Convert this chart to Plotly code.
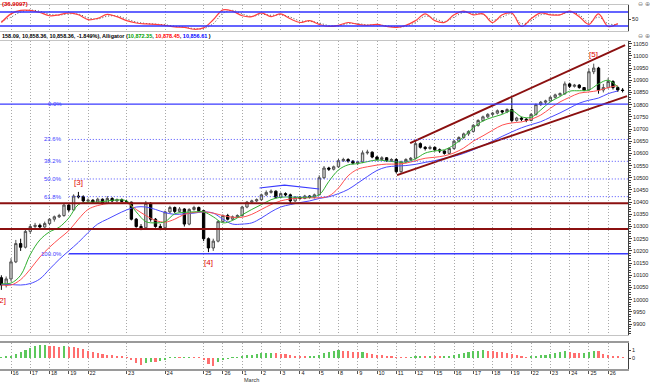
import plotly.graph_objects as go

# ---------------- data ----------------
day_labels = ["16","17","18","19","22","23","24","25","26","1","2","3","4","5",
              "8","9","10","11","12","15","16","17","18","19","22","23","24","25","26"]
day_slots = [0,1,2,3,4,6,8,10,11,12,13,14,15,16,17,18,19,20,21,22,23,24,25,26,27,28,29,30,31]

open_ = [
10090,10060,10085,10155,10230,10215,10280,10300,10305,10298,
10312,10330,10340,10345,10388,10368,10425,10422,10405,10408,
10400,10412,10395,10415,10405,10410,10403,10400,10330,10300,
10295,10395,10330,10300,10295,10360,10378,10362,10372,10310,
10370,10378,10365,10250,10212,10240,10320,10345,10330,10340,
10345,10380,10400,10405,10410,10430,10440,10445,10420,10435,
10430,10405,10420,10415,10425,10420,10430,10500,10540,10535,
10545,10570,10575,10568,10560,10565,10602,10605,10585,10575,
10582,10570,10575,10525,10565,10575,10580,10640,10625,10620,
10625,10615,10610,10600,10620,10650,10665,10680,10690,10715,
10735,10750,10760,10765,10775,10770,10780,10735,10745,10740,
10735,10760,10800,10810,10815,10830,10840,10845,10885,10875,
10880,10870,10860,10935,10950,10860,10870,10895,10870,10860]
high = [
10100,10095,10170,10245,10250,10290,10310,10315,10312,10320,
10335,10345,10352,10395,10392,10432,10442,10428,10415,10412,
10418,10415,10425,10420,10415,10415,10410,10402,10335,10310,
10405,10400,10335,10310,10365,10385,10382,10380,10375,10375,
10385,10382,10368,10255,10250,10325,10350,10352,10345,10350,
10385,10405,10410,10415,10435,10448,10452,10448,10440,10440,
10435,10425,10425,10430,10428,10435,10510,10548,10545,10550,
10578,10582,10580,10572,10570,10612,10615,10608,10590,10588,
10585,10580,10580,10570,10580,10585,10650,10645,10630,10632,
10628,10620,10612,10625,10655,10670,10685,10695,10720,10740,
10755,10765,10770,10780,10778,10785,10828,10750,10750,10745,
10765,10805,10815,10820,10835,10845,10850,10895,10890,10885,
10884,10872,10948,10968,10955,10885,10910,10900,10875,10868]
low = [
10040,10050,10075,10150,10200,10210,10270,10290,10290,10295,
10305,10320,10335,10340,10360,10365,10415,10400,10398,10395,
10398,10390,10392,10400,10400,10398,10395,10325,10295,10285,
10290,10320,10295,10285,10292,10355,10355,10358,10300,10305,
10365,10360,10240,10195,10200,10235,10315,10325,10325,10335,
10340,10375,10395,10400,10405,10425,10435,10415,10415,10425,
10395,10400,10410,10412,10415,10415,10428,10495,10528,10530,
10540,10565,10562,10555,10552,10560,10595,10580,10570,10570,
10565,10565,10518,10520,10560,10570,10575,10620,10612,10615,
10608,10602,10595,10598,10615,10645,10660,10672,10685,10710,
10730,10745,10752,10760,10762,10765,10728,10730,10732,10728,
10732,10755,10795,10802,10810,10825,10835,10840,10868,10870,
10865,10855,10858,10925,10845,10850,10865,10862,10852,10850]
close = [
10060,10085,10155,10230,10215,10280,10300,10305,10298,10312,
10330,10340,10345,10388,10368,10425,10422,10405,10408,10400,
10412,10395,10415,10405,10410,10403,10400,10330,10300,10295,
10395,10330,10300,10295,10360,10378,10362,10372,10310,10370,
10378,10365,10250,10212,10240,10320,10345,10330,10340,10345,
10380,10400,10405,10410,10430,10440,10445,10420,10435,10430,
10405,10420,10415,10425,10420,10430,10500,10540,10535,10545,
10570,10575,10568,10560,10565,10602,10605,10585,10575,10582,
10570,10575,10525,10565,10575,10580,10640,10625,10620,10625,
10615,10610,10600,10620,10650,10665,10680,10690,10715,10735,
10750,10760,10765,10775,10770,10780,10735,10745,10740,10735,
10760,10800,10810,10815,10830,10840,10845,10885,10875,10880,
10870,10860,10935,10950,10860,10870,10895,10870,10860,10858]

# Alligator (every second bar)
jaw = [
10062,10062,10060,10066,10085,10125,10165,10200,10235,10275,
10310,10330,10350,10368,10380,10380,10370,10357,10350,10352,
10355,10360,10355,10330,10310,10310,10315,10335,10360,10380,
10390,10398,10405,10415,10422,10435,10452,10478,10505,10530,
10544,10548,10550,10555,10563,10570,10580,10588,10600,10615,
10632,10650,10670,10688,10705,10718,10730,10748,10766,10786,
10806,10818,10827,10845,10856]
teeth = [
10060,10060,10082,10125,10175,10215,10250,10283,10330,10370,
10386,10394,10396,10397,10370,10345,10325,10318,10330,10350,
10358,10360,10355,10345,10338,10338,10350,10370,10390,10405,
10413,10417,10418,10418,10425,10458,10508,10535,10545,10552,
10556,10556,10560,10570,10580,10584,10590,10602,10622,10650,
10672,10695,10716,10725,10729,10740,10757,10785,10811,10830,
10847,10852,10858,10870,10878]
lips = [
10065,10068,10100,10185,10245,10278,10297,10335,10390,10400,
10400,10405,10409,10405,10360,10320,10315,10320,10352,10358,
10360,10360,10340,10315,10325,10348,10370,10390,10410,10420,
10421,10420,10421,10430,10485,10532,10553,10558,10566,10573,
10569,10565,10565,10578,10601,10610,10615,10635,10668,10705,
10733,10748,10760,10775,10750,10748,10778,10812,10833,10855,
10857,10860,10885,10900,10872]

# oscillator (top panel, every second bar)
osc = [
35,72,87,87,78,64,68,76,68,47,
53,70,60,43,33,29,27,23,16,14,
6,12,47,89,84,64,60,76,60,72,
51,35,43,27,18,23,35,27,23,27,
18,14,23,43,72,43,35,68,84,68,
72,35,68,76,18,51,76,68,68,84,
60,27,72,18,31]
osc_signal = [
40,58,80,88,83,70,67,72,71,55,
50,62,63,50,37,31,28,25,19,15,
9,9,30,75,87,72,61,70,66,68,
58,42,40,33,22,21,30,30,25,25,
21,16,19,35,62,52,39,58,78,74,
70,45,58,73,30,42,68,71,68,80,
68,36,58,30,26]
osc_levels = [80, 20]

# histogram (bottom panel)
hist = [
1,1.5,2.5,4,6,8,10,12,13,13,
12.5,12,11.5,12,11.5,11,10,9,7.5,6.5,
5,4,3.5,3,2.5,2,1,-2,-5,-6.5,
-5,-3.5,-4,-3,-1.5,0.5,0.7,0.5,0.5,0.7,
0.6,0.5,-2,-6,-7.5,-4,-1.5,-0.5,0.3,1,
2,3,3.5,4.5,5,5.5,5.5,5,4.5,4,
3,2,1.5,1.2,1.5,2,3.5,5,6,7,
8,7.5,7,6.5,6,6.3,5.5,4.5,3.5,3,
2,1.5,1,0.7,0.5,0.5,2,2.5,2.3,2.5,
2,1.5,1.5,2.5,3.5,4,5,6,7,7.5,
8,7.5,7,6.5,6,5.5,4,3,1.5,0.7,
1.5,2.5,3,3.5,4.5,5.5,6.5,7,6,5.5,
5,5.5,6.5,7.5,7,4.5,3,2,1.2,0.8]

# Fibonacci retracement
fib_top = 10802
fib_bottom = 10188
fib_levels = [0.0, 23.6, 38.2, 50.0, 61.8, 100.0]
fib_start_slot = 3
support_lines = [10395, 10290]

# drawn trend lines (slot, price)
channel_upper_x, channel_upper_y = [20.72, 31.88], [10642, 11044]
channel_lower_x, channel_lower_y = [20.04, 31.98], [10511, 10835]
wedge_x, wedge_y = [12.9, 14.2, 16.0], [10458, 10470, 10454]

wave_labels = [("[2]", 0, "low"), ("[3]", 16, "high"), ("[4]", 43, "low"), ("[5]", 123, "high")]

# ---------------- figure ----------------
n = len(close)
bar_x = [-0.5 + 0.25 * i for i in range(n)]
half_x = bar_x[::2]
XR = [-0.571, 32.03]
FONT = "Liberation Sans"
H = 369.0  # plot-area height in px

def py(px):
    return (H - px) / H

fig = go.Figure()

# top oscillator
fig.add_trace(go.Scatter(x=half_x, y=osc_signal, mode="lines", xaxis="x", yaxis="y",
                         line=dict(color="#505050", width=1, dash="1px,2px", shape="spline"), hoverinfo="skip"))
fig.add_trace(go.Scatter(x=half_x, y=osc, mode="lines", xaxis="x", yaxis="y",
                         line=dict(color="#ff4040", width=1.2, shape="spline"), hoverinfo="skip"))

# main panel
fig.add_trace(go.Candlestick(x=bar_x, open=open_, high=high, low=low, close=close,
                             xaxis="x2", yaxis="y2", whiskerwidth=0,
                             increasing=dict(line=dict(color="#505050", width=1), fillcolor="#d4d4d4"),
                             decreasing=dict(line=dict(color="#000000", width=1), fillcolor="#000000")))
for vals, col in [(jaw, "#4a4aff"), (teeth, "#ff5050"), (lips, "#30b030")]:
    fig.add_trace(go.Scatter(x=half_x, y=vals, mode="lines", xaxis="x2", yaxis="y2",
                             line=dict(color=col, width=1, shape="spline"), hoverinfo="skip"))
for xs, ys in [(channel_upper_x, channel_upper_y), (channel_lower_x, channel_lower_y)]:
    fig.add_trace(go.Scatter(x=xs, y=ys, mode="lines", xaxis="x2", yaxis="y2",
                             line=dict(color="#8b1010", width=2), hoverinfo="skip"))
fig.add_trace(go.Scatter(x=wedge_x, y=wedge_y, mode="lines", xaxis="x2", yaxis="y2",
                         line=dict(color="#3a3aff", width=1.2), hoverinfo="skip"))

# bottom histogram
hist_colors = []
for i, v in enumerate(hist):
    prev = hist[i - 1] if i > 0 else v
    hist_colors.append("#5cc85c" if v >= prev else "#ff6f6f")
fig.add_trace(go.Bar(x=bar_x, y=hist, xaxis="x3", yaxis="y3", marker_color=hist_colors,
                     marker_line_width=0, width=0.11, hoverinfo="skip"))

shapes = []
for lv in osc_levels:
    shapes.append(dict(type="line", xref="x domain", x0=0, x1=1, yref="y", y0=lv, y1=lv,
                       line=dict(color="#3030ff", width=1.5)))
for s in support_lines:
    shapes.append(dict(type="line", xref="x2 domain", x0=0, x1=1, yref="y2", y0=s, y1=s,
                       line=dict(color="#8b1010", width=2)))
annotations = []
for lv in fib_levels:
    p = fib_top - (fib_top - fib_bottom) * lv / 100.0
    solid = lv in (0.0, 100.0)
    x0 = XR[0] if lv == 0.0 else fib_start_slot
    shapes.append(dict(type="line", xref="x2", x0=x0, x1=XR[1], yref="y2", y0=p, y1=p,
                       line=dict(color="#3a3aff" if solid else "#5050ff", width=1.4 if solid else 1,
                                 dash="solid" if solid else "1px,2px")))
    annotations.append(dict(x=fib_start_slot, y=p, xref="x2", yref="y2", text=f"{lv:.1f}%",
                            xanchor="right", yanchor="middle", xshift=-5, showarrow=False,
                            font=dict(family=FONT, size=6, color="#4040ff")))

for txt, k, side in wave_labels:
    if side == "high":
        annotations.append(dict(x=bar_x[k], y=high[k], xref="x2", yref="y2", text=txt, showarrow=False,
                                yanchor="bottom", yshift=3, font=dict(family=FONT, size=8, color="#e00000")))
    else:
        annotations.append(dict(x=bar_x[k], y=low[k], xref="x2", yref="y2", text=txt, showarrow=False,
                                yanchor="top", yshift=-4, font=dict(family=FONT, size=8, color="#e00000")))

header = ("<b>158.09, 10,858.36, 10,858.36, -1.849%), Alligator (</b>"
          "<b><span style='color:#00a000'>10,872.35</span>, </b>"
          "<b><span style='color:#ff0000'>10,878.45</span>, </b>"
          "<b><span style='color:#0000ff'>10,856.61</span> )</b>")
annotations.append(dict(x=0, y=py(36), xref="paper", yref="paper", text=header,
                        xanchor="left", yanchor="middle", showarrow=False,
                        font=dict(family=FONT, size=5.5, color="#000000")))
annotations.append(dict(x=0, y=py(4), xref="paper", yref="paper", text="<b>(36.9097)</b>",
                        xanchor="left", yanchor="middle", showarrow=False,
                        font=dict(family=FONT, size=6, color="#e00000")))
annotations.append(dict(x=day_slots[9], y=py(380), xref="x3", yref="paper", text="March",
                        xanchor="left", yanchor="middle", showarrow=False,
                        font=dict(family=FONT, size=5.5, color="#333333")))
for ypx in (4, 36):
    annotations.append(dict(x=644 / 628, y=py(ypx), xref="paper", yref="paper", text="⊖ ⊕",
                            xanchor="center", yanchor="middle", showarrow=False,
                            font=dict(family=FONT, size=5.5, color="#808080")))

common_x = dict(range=XR, tickvals=day_slots, showgrid=True, gridcolor="#a8a8a8", griddash="1px,2px",
                gridwidth=1, zeroline=False, showline=True, linecolor="#c4c4c4", mirror=True,
                automargin=False)
tick_font = dict(family=FONT, size=5.5, color="#222222")

fig.update_layout(
    width=650, height=382, margin=dict(l=0, r=22, t=0, b=13, autoexpand=False),
    paper_bgcolor="white", plot_bgcolor="white", showlegend=False, bargap=0,
    xaxis=dict(common_x, domain=[0, 1], anchor="y", showticklabels=False, ticks=""),
    xaxis2=dict(common_x, domain=[0, 1], anchor="y2", showticklabels=False, ticks="",
                rangeslider=dict(visible=False)),
    xaxis3=dict(common_x, domain=[0, 1], anchor="y3", ticktext=day_labels, showticklabels=True,
                ticks="outside", ticklen=3, tickcolor="#555555", ticklabelposition="outside right",
                ticklabelstandoff=-3, tickfont=tick_font, linecolor="#9a9a9a", linewidth=2),
    yaxis=dict(domain=[py(31), py(5)], anchor="x", side="right", range=[-1.4, 110],
               tickvals=[50], ticktext=["50"], showgrid=False, zeroline=False, showline=True,
               linecolor="#404040", ticks="outside", ticklen=2, tickfont=tick_font, automargin=False),
    yaxis2=dict(domain=[py(335), py(41)], anchor="x2", side="right",
                range=[9855, 11061], tick0=0, dtick=50, tickformat="d", showgrid=False, zeroline=False,
                showline=True, linecolor="#404040", ticks="outside", ticklen=3, tickcolor="#404040",
                minor=dict(dtick=10, ticks="outside", ticklen=2, tickcolor="#404040"),
                tickfont=tick_font, automargin=False),
    yaxis3=dict(domain=[0, py(343)], anchor="x3", side="right", range=[-11, 15],
                tickvals=[0, 8], ticktext=["0", "1"], showgrid=False, zeroline=False, showline=True,
                linecolor="#404040", ticks="outside", ticklen=2, tickfont=tick_font, automargin=False),
    shapes=shapes, annotations=annotations,
)

fig.write_html("out.html", config={"displayModeBar": False},
               post_script="document.body.style.margin='0';document.body.style.overflow='hidden';")
